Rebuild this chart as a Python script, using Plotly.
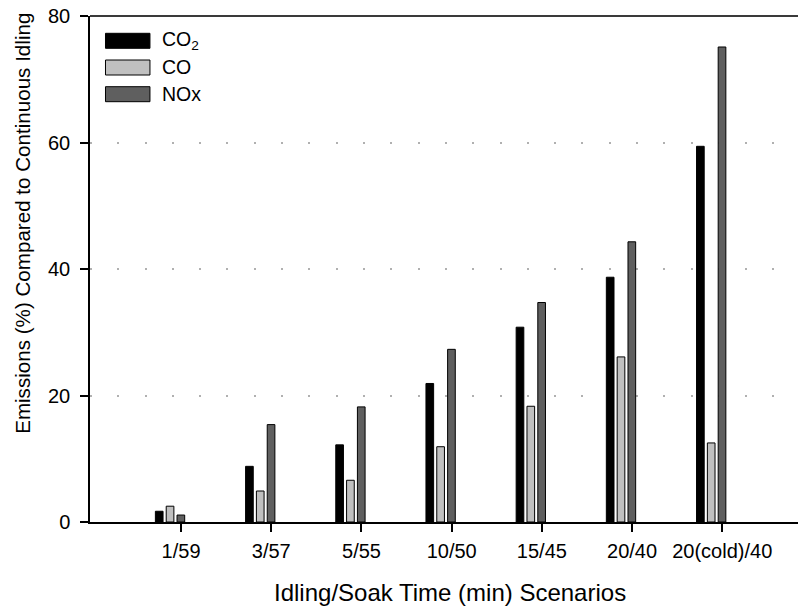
import plotly.graph_objects as go

categories = ["1/59", "3/57", "5/55", "10/50", "15/45", "20/40", "20(cold)/40"]
co2 = [1.7, 8.8, 12.2, 21.9, 30.8, 38.7, 59.4]
co = [2.5, 4.9, 6.6, 11.9, 18.3, 26.1, 12.5]
nox = [1.1, 15.4, 18.2, 27.3, 34.7, 44.3, 75.1]
y_ticks = [0, 20, 40, 60, 80]

series = [
    ("CO<sub>2</sub>", co2, "#000000"),
    ("CO", co, "#c0c0c0"),
    ("NOx", nox, "#5f5f5f"),
]

W, H = 799, 610
ml, mr, mt, mb = 89.5, 1, 15.7, 88.3
pw, ph = W - ml - mr, H - mt - mb

xpos = list(range(len(categories)))
bar_w = 0.085
pitch = 0.12
first_off = -0.285

fig = go.Figure()
for k, (name, vals, col) in enumerate(series):
    fig.add_trace(go.Bar(
        x=xpos, y=vals, name=name,
        width=[bar_w] * len(xpos),
        offset=[first_off + k * pitch] * len(xpos),
        marker=dict(color=col, line=dict(color="#000000", width=1)),
        showlegend=False,
    ))

# custom legend (swatches + labels) in paper coordinates
shapes = []
annotations = []
for k, (name, vals, col) in enumerate(series):
    top_px = 33 + k * 26.7
    bot_px = top_px + 15
    x0 = (105 - ml) / pw
    x1 = (149.5 - ml) / pw
    y0 = 1 - (bot_px - mt) / ph
    y1 = 1 - (top_px - mt) / ph
    shapes.append(dict(type="rect", xref="paper", yref="paper", x0=x0, x1=x1, y0=y0, y1=y1,
                       fillcolor=col, line=dict(color="#000000", width=1)))
    annotations.append(dict(xref="paper", yref="paper", x=(160 - ml) / pw, y=(y0 + y1) / 2,
                            text=name, showarrow=False, xanchor="left", yanchor="middle",
                            font=dict(size=19.5, color="#000000")))

# top border line
shapes.append(dict(type="line", xref="paper", yref="paper", x0=0, x1=1, y0=1, y1=1,
                   line=dict(color="#3a3a3a", width=2)))

# axis titles
annotations.append(dict(xref="paper", yref="paper", x=(450 - ml) / pw, y=-(592 - mt - ph) / ph,
                        text="Idling/Soak Time (min) Scenarios", showarrow=False,
                        xanchor="center", yanchor="middle", font=dict(size=24, color="#000000")))
annotations.append(dict(xref="paper", yref="paper", x=(22 - ml) / pw, y=1 - (223 - mt) / ph,
                        text="Emissions (%) Compared to Continuous Idling", showarrow=False,
                        textangle=-90, xanchor="center", yanchor="middle",
                        font=dict(size=20.6, color="#000000")))

fig.update_layout(
    width=W, height=H,
    margin=dict(l=ml, r=mr, t=mt, b=mb, pad=0),
    paper_bgcolor="white", plot_bgcolor="white",
    font=dict(family="Liberation Sans, Arial, sans-serif", color="#000000"),
    shapes=shapes, annotations=annotations,
    xaxis=dict(
        range=[-1.01, 6.84], tickmode="array", tickvals=xpos, ticktext=categories,
        ticks="outside", ticklen=8, tickwidth=1.5, tickcolor="#000000",
        showline=True, linecolor="#000000", linewidth=1.5,
        showgrid=False, zeroline=False, tickfont=dict(size=20),
        ticklabelstandoff=2,
    ),
    yaxis=dict(
        range=[0, 80], tickmode="array", tickvals=y_ticks,
        ticks="outside", ticklen=8, tickwidth=1.5, tickcolor="#000000",
        showline=True, linecolor="#000000", linewidth=1.5,
        showgrid=True, gridcolor="#b0b0b0", gridwidth=1.5, griddash="2px,25.3px",
        zeroline=False, tickfont=dict(size=20), ticklabelstandoff=6,
    ),
)

fig.write_html("out.html")
